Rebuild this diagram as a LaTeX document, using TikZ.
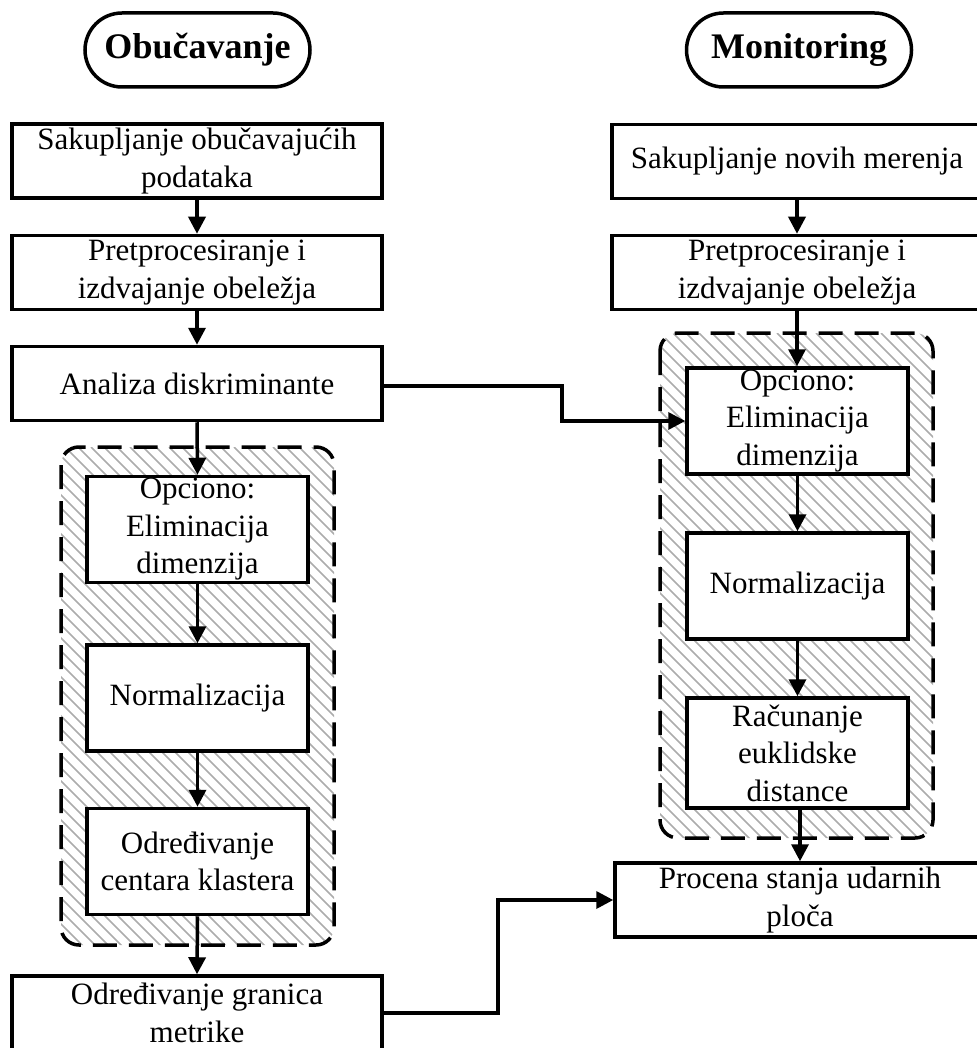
\documentclass[tikz,border=0pt]{standalone}
\usepackage{fontspec}
\setmainfont{Liberation Serif}
\usetikzlibrary{arrows.meta,calc}
\begin{document}
\begin{tikzpicture}[x=1pt,y=-1pt,
  box/.style={draw,line width=3.5pt,fill=white,inner sep=0pt,align=center,
    font=\fontsize{31}{37.5}\selectfont},
  wide/.style={box,minimum width=370pt,minimum height=74pt},
  inner/.style={box,minimum width=221pt,minimum height=106pt},
  pill/.style={draw,line width=3.5pt,rounded corners=37pt,minimum width=225pt,
    minimum height=74pt,inner sep=0pt,font=\fontsize{36}{40}\selectfont\bfseries},
  arr/.style={line width=3.5pt,-{Triangle[length=17pt,width=17pt]}},
  grp/.style={line width=3.5pt,dash pattern=on 24pt off 12pt,rounded corners=18pt},
  hatch/.style={gray!65,line width=1.5pt}]
\useasboundingbox (0,0) rectangle (976,1048);

% hatched groups
\begin{scope}
  \clip[rounded corners=18pt] (61,447) rectangle (334,945);
  \foreach \i in {-520,-507,...,340} \draw[hatch] (\i,447) -- (\i+520,967);
\end{scope}
\begin{scope}
  \clip[rounded corners=18pt] (660,333) rectangle (933,838);
  \foreach \i in {140,153,...,940} \draw[hatch] (\i,333) -- (\i+520,853);
\end{scope}
\draw[grp] (61,447) rectangle (334,945);
\draw[grp] (660,333) rectangle (933,838);

% titles
\node[pill] (tL) at (197.5,50) {Obučavanje};
\node[pill] (tR) at (799,50) {Monitoring};

% left column
\node[wide] (L1) at (197,161) {Sakupljanje obučavajućih\\podataka};
\node[wide] (L2) at (197,272.5) {Pretprocesiranje i\\izdvajanje obeležja};
\node[wide] (L3) at (197,383.5) {Analiza diskriminante};
\node[inner] (L4) at (197.5,529.5) {Opciono:\\Eliminacija\\dimenzija};
\node[inner] (L5) at (197.5,698) {Normalizacija};
\node[inner] (L6) at (197.5,861.5) {Određivanje\\centara klastera};
\node[wide] (L7) at (197,1013) {Određivanje granica\\metrike};

% right column
\node[wide] (R1) at (797,161.5) {Sakupljanje novih merenja};
\node[wide] (R2) at (797,272.5) {Pretprocesiranje i\\izdvajanje obeležja};
\node[inner] (R4) at (797.5,421) {Opciono:\\Eliminacija\\dimenzija};
\node[inner] (R5) at (797.5,586) {Normalizacija};
\node[inner,minimum height=110pt] (R6) at (797.5,753) {Računanje\\euklidske\\distance};
\node[wide] (RP) at (800,900) {Procena stanja udarnih\\ploča};

\coordinate (c1) at (562,400);
\coordinate (c2) at (498,950);

% connectors
\draw[arr] (L1.south) -- (L2.north);
\draw[arr] (L2.south) -- (L3.north);
\draw[arr] (L3.south) -- (L4.north);
\draw[arr] (L4.south) -- (L5.north);
\draw[arr] (L5.south) -- (L6.north);
\draw[arr] (L6.south) -- (L7.north);
\draw[arr] (R1.south) -- (R2.north);
\draw[arr] (R2.south) -- (R4.north -| R2.south);
\draw[arr] (R4.south) -- (R5.north);
\draw[arr] (R5.south) -- (R6.north);
\draw[arr] (R6.south -| RP.north) -- (RP.north);
\draw[arr] ([yshift=-2.5pt]L3.east) -| (c1) |- (R4.west);
\draw[arr] (L7.east) -| (c2) |- (RP.west);
\end{tikzpicture}
\end{document}
